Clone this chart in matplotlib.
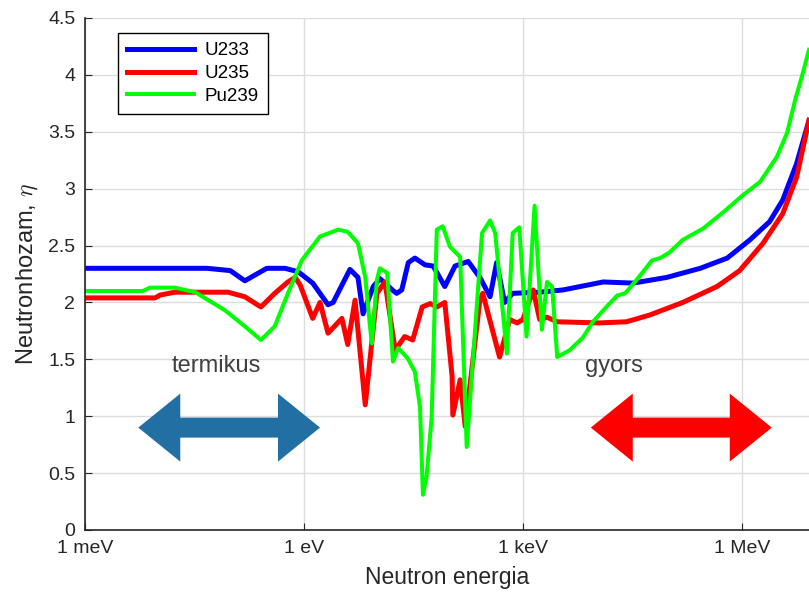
import numpy as np
import matplotlib
matplotlib.use('Agg')
from matplotlib import pyplot as plt
from matplotlib.patches import Polygon

plt.rcParams['font.family'] = ['Liberation Sans', 'DejaVu Sans']
plt.rcParams['mathtext.fontset'] = 'cm'

# log10 of neutron energy (eV) and eta values
u233_logE = [-3.00, -1.33, -1.01, -0.81, -0.51, -0.26, -0.08, 0.12, 0.33, 0.40,
             0.63, 0.74, 0.81, 0.95, 1.04, 1.21, 1.27, 1.34, 1.43, 1.52,
             1.66, 1.77, 1.93, 2.07, 2.25, 2.41, 2.55, 2.64, 2.75, 2.86,
             3.23, 3.55, 4.10, 4.51, 4.97, 5.43, 5.80, 6.11, 6.38, 6.56,
             6.75, 6.92]
u233_eta = [2.30, 2.30, 2.28, 2.19, 2.30, 2.30, 2.27, 2.17, 1.98, 2.00,
            2.29, 2.22, 1.90, 2.14, 2.21, 2.11, 2.08, 2.11, 2.35, 2.39,
            2.33, 2.32, 2.14, 2.32, 2.36, 2.22, 2.05, 2.35, 2.00, 2.08,
            2.09, 2.11, 2.18, 2.17, 2.22, 2.30, 2.39, 2.55, 2.71, 2.90,
            3.22, 3.60]

u235_logE = [-3.00, -2.04, -1.97, -1.77, -1.04, -0.81, -0.59, -0.40, -0.22, -0.12,
             -0.05, 0.12, 0.22, 0.33, 0.52, 0.60, 0.70, 0.84, 1.00, 1.11,
             1.25, 1.38, 1.49, 1.62, 1.73, 1.82, 1.93, 2.03, 2.04, 2.14,
             2.21, 2.41, 2.45, 2.68, 2.82, 2.92, 3.00, 3.14, 3.23, 3.33,
             3.47, 4.05, 4.42, 4.74, 5.19, 5.66, 5.97, 6.29, 6.56, 6.75,
             6.92]
u235_eta = [2.04, 2.04, 2.065, 2.09, 2.09, 2.05, 1.96, 2.08, 2.18, 2.22,
            2.15, 1.86, 2.00, 1.73, 1.86, 1.63, 2.02, 1.10, 2.08, 2.18,
            1.58, 1.70, 1.67, 1.96, 1.99, 1.96, 2.00, 1.35, 1.01, 1.32,
            0.91, 2.02, 2.08, 1.52, 1.85, 1.82, 1.85, 2.11, 1.85, 1.87,
            1.83, 1.82, 1.83, 1.89, 2.00, 2.14, 2.28, 2.52, 2.78, 3.10,
            3.60]

pu239_logE = [-3.00, -2.21, -2.11, -1.77, -1.49, -1.08, -0.81, -0.59, -0.40, -0.22,
              -0.03, 0.22, 0.47, 0.60, 0.74, 0.84, 0.90, 0.93, 1.00, 1.04,
              1.14, 1.22, 1.29, 1.42, 1.52, 1.59, 1.63, 1.68, 1.75, 1.82,
              1.90, 2.00, 2.14, 2.23, 2.44, 2.55, 2.62, 2.78, 2.86, 2.95,
              3.05, 3.16, 3.26, 3.33, 3.40, 3.47, 3.64, 3.82, 3.96, 4.10,
              4.29, 4.40, 4.56, 4.77, 4.88, 5.01, 5.19, 5.47, 5.74, 6.01,
              6.25, 6.48, 6.62, 6.73, 6.82, 6.92]
pu239_eta = [2.10, 2.10, 2.13, 2.13, 2.09, 1.93, 1.79, 1.67, 1.79, 2.08,
             2.37, 2.58, 2.64, 2.62, 2.52, 2.22, 1.82, 1.64, 2.20, 2.30,
             2.26, 1.48, 1.60, 1.51, 1.39, 1.08, 0.31, 0.47, 0.99, 2.64,
             2.67, 2.49, 2.40, 0.73, 2.61, 2.72, 2.61, 1.55, 2.61, 2.66,
             1.70, 2.85, 1.76, 2.18, 2.14, 1.52, 1.58, 1.69, 1.83, 1.93,
             2.06, 2.08, 2.20, 2.37, 2.39, 2.44, 2.55, 2.65, 2.79, 2.94,
             3.06, 3.28, 3.49, 3.78, 3.98, 4.22]

x_ticks = [1e-3, 1, 1e3, 1e6]
x_ticklabels = ['1 meV', '1 eV', '1 keV', '1 MeV']
y_ticks = [0, 0.5, 1, 1.5, 2, 2.5, 3, 3.5, 4, 4.5]
y_ticklabels = ['0', '0.5', '1', '1.5', '2', '2.5', '3', '3.5', '4', '4.5']

# arrows: (log10 E start, log10 E end, eta)
thermal_arrow = (-2.27, 0.22, 0.9)
fast_arrow = (3.93, 6.41, 0.9)

fig = plt.figure(figsize=(8.09, 5.95), dpi=100)
ax = fig.add_axes([85 / 809, 65 / 595, 724 / 809, 512 / 595])

ax.plot(10 ** np.array(u233_logE), u233_eta, color='#0000ff', lw=3.6, label='U233')
ax.plot(10 ** np.array(u235_logE), u235_eta, color='#ff0000', lw=3.6, label='U235')
ax.plot(10 ** np.array(pu239_logE), pu239_eta, color='#00ff00', lw=2.9, label='Pu239')

ax.set_xscale('log')
ax.set_xlim(1e-3, 10 ** 6.92)
ax.set_ylim(0, 4.5)
ax.set_xticks(x_ticks)
ax.set_xticklabels(x_ticklabels)
ax.xaxis.set_minor_locator(matplotlib.ticker.NullLocator())
ax.set_yticks(y_ticks)
ax.set_yticklabels(y_ticklabels)
ax.tick_params(direction='in', labelsize=14, colors='#262626', length=5, pad=7)
ax.grid(True, color='#dcdcdc', lw=1)
ax.set_axisbelow(True)
for s in ['top', 'right']:
    ax.spines[s].set_visible(False)
for s in ['left', 'bottom']:
    ax.spines[s].set_color('#262626')
    ax.spines[s].set_linewidth(1.2)

ax.set_xlabel('Neutron energia', fontsize=16.5, color='#262626', labelpad=7)
ax.set_ylabel(r'Neutronhozam, $\eta$', fontsize=17, color='#262626', labelpad=6)

leg = ax.legend(loc='upper left', bbox_to_anchor=(0.0456, 0.971), borderaxespad=0,
                fontsize=13.5, handlelength=3.55, handletextpad=0.55, fancybox=False,
                framealpha=1, edgecolor='black', labelspacing=0.3, borderpad=0.5)
leg.get_frame().set_linewidth(1.0)

ax.text(10 ** -1.2, 1.44, 'termikus', fontsize=17, color='#404040', ha='center', va='center')
ax.text(10 ** 4.25, 1.44, 'gyors', fontsize=17, color='#404040', ha='center', va='center')


def double_arrow(ax, spec, color):
    x0, x1, y = spec
    p0 = ax.transData.transform((10 ** x0, y))
    p1 = ax.transData.transform((10 ** x1, y))
    hl, hw, sw = 42, 34, 10
    xa, xb, yc = p0[0], p1[0], p0[1]
    verts = [(xa, yc), (xa + hl, yc + hw), (xa + hl, yc + sw), (xb - hl, yc + sw),
             (xb - hl, yc + hw), (xb, yc), (xb - hl, yc - hw), (xb - hl, yc - sw),
             (xa + hl, yc - sw), (xa + hl, yc - hw)]
    verts = ax.transAxes.inverted().transform(verts)
    ax.add_patch(Polygon(verts, closed=True, transform=ax.transAxes,
                         facecolor=color, edgecolor='none', zorder=5))


double_arrow(ax, thermal_arrow, '#216fa3')
double_arrow(ax, fast_arrow, '#ff0000')

plt.savefig('out.png', dpi=100)
